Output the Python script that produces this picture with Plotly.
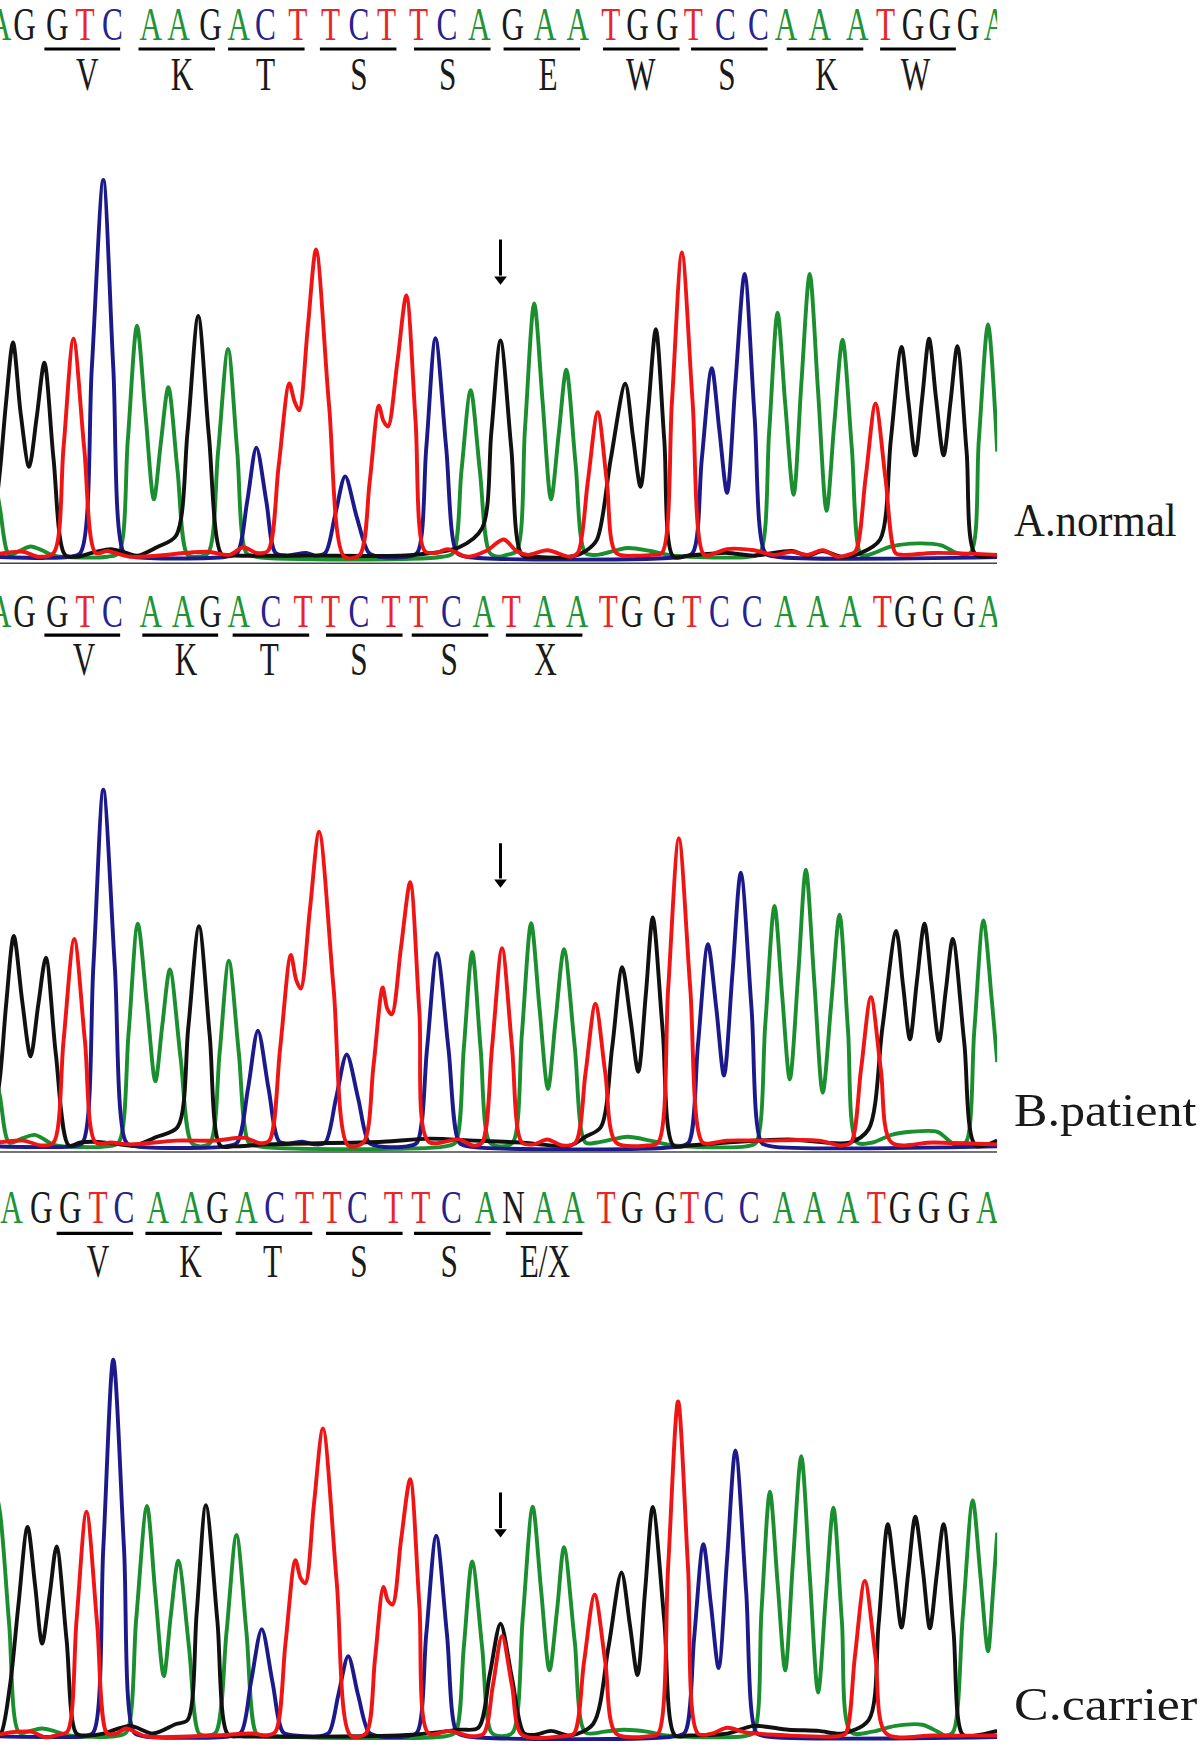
import plotly.graph_objects as go

# ---------- panel A (normal) ----------
A_BASES = list("AGGTCAAGACTTCTTCAGAATGGTCCAAATGGGA")
A_BASE_X = [0,32,75,111,147,197,233,275,312,347,389,432,469,505,547,584,626,670,712,755,798,833,872,906,948,991,1027,1071,1120,1157,1193,1228,1265,1300]
A_AA = ["V","K","T","S","S","E","W","S","K","W"]
A_AA_X = [114,238,347,469,585,716,837,950,1080,1196]
A_BARS = [(58,157),(181,281),(298,398),(418,518),(541,641),(658,758),(788,888),(903,1003),(1028,1128),(1150,1249)]
A_BLACK = [(-12,1440),(0,1230),(8,1050),(17,895),(27,1080),(38,1220),(48,1090),(58,948),(70,1200),(85,1450),(100,1455),(125,1442),(145,1435),(165,1445),(180,1452),(205,1430),(230,1400),(245,1130),(259,826),(273,1140),(290,1450),(305,1452),(400,1452),(540,1450),(600,1430),(630,1380),(642,1130),(654,890),(668,1170),(682,1450),(700,1455),(745,1455),(765,1440),(780,1410),(798,1200),(817,1003),(827,1140),(837,1272),(847,1070),(857,860),(868,1150),(880,1455),(900,1452),(950,1445),(985,1452),(1035,1440),(1055,1452),(1075,1440),(1100,1455),(1125,1445),(1150,1410),(1164,1150),(1178,907),(1187,1050),(1196,1190),(1205,1040),(1214,885),(1223,1040),(1233,1190),(1242,1050),(1251,905),(1263,1180),(1275,1450),(1303,1450)]
A_BLUE = [(-10,1455),(60,1458),(90,1455),(105,1445),(120,960),(135,470),(148,960),(162,1445),(175,1455),(295,1455),(310,1445),(323,1310),(335,1170),(348,1310),(360,1445),(375,1452),(400,1445),(412,1452),(425,1445),(438,1345),(451,1245),(466,1350),(482,1445),(495,1455),(530,1455),(545,1445),(557,1170),(569,884),(583,1170),(597,1445),(610,1455),(890,1455),(905,1445),(917,1200),(930,962),(940,1125),(950,1288),(961,1000),(973,716),(986,1090),(1000,1445),(1015,1455),(1303,1456)]
A_GREEN = [(-10,1200),(0,1330),(12,1450),(25,1440),(40,1428),(55,1438),(70,1452),(140,1455),(155,1445),(167,1150),(179,851),(190,1080),(201,1305),(210,1160),(220,1012),(232,1230),(245,1450),(258,1455),(272,1445),(285,1180),(298,912),(310,1180),(322,1445),(335,1455),(578,1455),(592,1445),(603,1230),(615,1020),(627,1230),(640,1445),(652,1455),(662,1450),(675,1440),(686,1120),(698,793),(709,1050),(720,1305),(730,1135),(740,966),(752,1210),(765,1445),(780,1450),(820,1432),(850,1440),(880,1452),(978,1455),(993,1445),(1005,1130),(1016,817),(1026,1055),(1037,1293),(1047,1005),(1058,716),(1069,1025),(1080,1335),(1090,1110),(1101,888),(1113,1170),(1125,1450),(1135,1450),(1165,1428),(1200,1420),(1230,1425),(1250,1445),(1268,1445),(1279,1150),(1291,848),(1303,1180)]
A_RED = [(-10,1450),(30,1442),(50,1455),(70,1445),(83,1170),(96,885),(110,1170),(125,1445),(140,1440),(170,1455),(270,1442),(300,1450),(318,1430),(335,1445),(350,1440),(364,1220),(378,1002),(385,1050),(391,1072),(402,860),(413,652),(430,1060),(450,1455),(470,1450),(483,1260),(495,1060),(501,1100),(507,1115),(519,950),(531,772),(543,1100),(555,1440),(570,1445),(585,1435),(610,1455),(635,1440),(658,1410),(675,1440),(690,1450),(715,1438),(745,1455),(755,1445),(768,1260),(781,1077),(793,1260),(805,1445),(835,1452),(852,1450),(865,1445),(878,1050),(891,660),(905,1050),(920,1450),(935,1445),(950,1435),(985,1438),(1010,1450),(1035,1442),(1055,1450),(1075,1438),(1095,1455),(1108,1450),(1118,1440),(1131,1250),(1144,1055),(1157,1250),(1170,1445),(1180,1450),(1220,1445),(1303,1450)]

# ---------- panel B (patient) ----------
B_BASES = list("AGGTCAAGACTTCTTCATAATGGTCCAAATGGGA")
B_BASE_X = [0,32,75,111,147,197,239,275,312,354,396,432,469,511,547,590,632,668,711,754,795,826,868,904,940,983,1026,1068,1111,1153,1183,1219,1260,1293]
B_AA = ["V","K","T","S","S","X"]
B_AA_X = [110,243,352,469,587,713]
B_BARS = [(58,157),(186,285),(304,404),(426,526),(538,638),(661,761)]
B_BLACK = [(-12,1460),(0,1300),(8,1110),(18,930),(29,1100),(40,1245),(50,1110),(60,987),(73,1240),(90,1478),(105,1470),(120,1468),(150,1473),(175,1478),(205,1455),(232,1430),(246,1170),(260,905),(274,1190),(288,1478),(305,1480),(350,1475),(500,1468),(560,1460),(620,1465),(680,1470),(745,1478),(765,1455),(785,1430),(800,1220),(813,1012),(824,1150),(834,1285),(844,1080),(853,882),(866,1180),(880,1478),(900,1478),(950,1470),(1030,1462),(1110,1470),(1135,1435),(1153,1170),(1171,917),(1180,1060),(1189,1200),(1198,1050),(1208,898),(1217,1050),(1227,1205),(1236,1070),(1245,938),(1260,1210),(1275,1478),(1303,1465)]
B_BLUE = [(-10,1480),(60,1482),(95,1480),(108,1470),(122,1010),(135,548),(150,1010),(165,1470),(178,1480),(295,1480),(310,1470),(324,1330),(337,1178),(351,1330),(365,1468),(380,1472),(395,1468),(412,1475),(425,1470),(439,1355),(453,1240),(468,1355),(482,1470),(495,1480),(532,1480),(545,1470),(558,1225),(571,975),(586,1225),(600,1470),(612,1480),(888,1480),(900,1470),(912,1215),(925,952),(936,1120),(946,1295),(957,1030),(968,765),(982,1120),(995,1470),(1008,1480),(1303,1480)]
B_GREEN = [(-10,1250),(0,1350),(12,1470),(28,1460),(45,1450),(58,1462),(70,1476),(140,1480),(155,1470),(168,1185),(180,898),(192,1110),(203,1310),(212,1165),(222,1018),(236,1250),(250,1470),(262,1480),(275,1470),(287,1235),(299,995),(312,1235),(325,1470),(338,1480),(582,1480),(595,1470),(606,1225),(617,972),(628,1225),(640,1470),(655,1480),(670,1470),(682,1185),(694,897),(705,1120),(716,1330),(726,1150),(737,965),(751,1220),(765,1470),(780,1470),(800,1462),(820,1455),(850,1465),(880,1478),(975,1480),(988,1470),(1000,1160),(1012,852),(1022,1085),(1032,1305),(1043,1030),(1053,757),(1064,1050),(1075,1340),(1086,1110),(1097,875),(1108,1175),(1120,1470),(1140,1470),(1165,1450),(1190,1442),(1225,1442),(1240,1465),(1250,1478),(1262,1470),(1273,1180),(1285,890),(1296,1100),(1303,1260)]
B_RED = [(-10,1472),(30,1465),(55,1478),(70,1470),(83,1205),(97,938),(111,1205),(125,1470),(145,1470),(170,1475),(230,1465),(280,1465),(320,1458),(340,1472),(352,1465),(366,1225),(380,980),(387,1045),(393,1068),(405,860),(417,658),(436,1070),(455,1478),(475,1470),(488,1270),(500,1065),(506,1120),(512,1135),(524,960),(536,790),(548,1130),(560,1468),(600,1462),(618,1478),(630,1470),(643,1220),(656,962),(669,1220),(682,1470),(698,1475),(715,1462),(735,1478),(752,1470),(765,1290),(778,1108),(791,1290),(805,1470),(845,1478),(860,1470),(873,1070),(887,675),(902,1070),(918,1470),(935,1470),(950,1465),(1000,1465),(1070,1465),(1100,1478),(1112,1470),(1125,1280),(1138,1090),(1151,1280),(1165,1470),(1220,1470),(1303,1475)]

# ---------- panel C (carrier) ----------
C_BASES = list("AGGTCAAGACTTCTTCANAATGGTCCAAATGGGA")
C_BASE_X = [15,54,92,128,162,206,250,284,322,359,398,434,467,514,550,590,635,671,711,749,792,826,870,901,933,979,1024,1064,1108,1145,1176,1214,1253,1290]
C_AA = ["V","K","T","S","S","E/X"]
C_AA_X = [128,249,356,469,587,712]
C_BARS = [(74,174),(190,290),(308,408),(426,526),(541,641),(661,761)]
C_BLACK = [(-10,1535),(0,1530),(13,1400),(24,1190),(36,985),(46,1140),(55,1290),(65,1160),(74,1036),(87,1280),(100,1525),(115,1530),(135,1525),(170,1505),(200,1525),(230,1500),(245,1490),(257,1210),(269,928),(284,1230),(298,1528),(315,1532),(540,1528),(600,1515),(625,1510),(640,1370),(654,1238),(669,1380),(685,1525),(700,1528),(720,1518),(745,1530),(775,1500),(795,1300),(812,1104),(823,1240),(833,1372),(843,1150),(853,933),(868,1230),(882,1530),(900,1530),(950,1525),(985,1505),(1030,1515),(1070,1518),(1100,1525),(1135,1490),(1148,1240),(1160,978),(1169,1110),(1178,1248),(1187,1100),(1196,958),(1206,1100),(1215,1250),(1224,1110),(1233,978),(1246,1260),(1258,1528),(1275,1530),(1303,1518)]
C_BLUE = [(-10,1532),(60,1534),(110,1532),(122,1522),(135,1040),(148,548),(162,1040),(175,1522),(188,1532),(300,1532),(315,1522),(328,1390),(342,1252),(356,1390),(370,1522),(385,1530),(418,1532),(430,1522),(442,1425),(455,1323),(468,1425),(482,1522),(495,1532),(532,1532),(545,1522),(557,1265),(570,1008),(584,1265),(597,1522),(610,1532),(882,1532),(895,1522),(907,1275),(919,1030),(929,1190),(939,1354),(950,1070),(961,785),(975,1155),(988,1522),(1000,1532),(1303,1534)]
C_GREEN = [(-10,850),(0,948),(12,1240),(25,1522),(40,1518),(55,1512),(70,1518),(90,1530),(150,1532),(165,1522),(178,1225),(192,930),(203,1160),(214,1375),(223,1220),(233,1073),(247,1300),(260,1525),(270,1530),(282,1522),(296,1260),(309,1006),(322,1260),(335,1525),(345,1530),(582,1532),(595,1522),(606,1300),(617,1075),(630,1300),(642,1522),(655,1532),(670,1522),(683,1225),(696,932),(707,1150),(718,1360),(728,1200),(737,1038),(751,1285),(765,1522),(790,1520),(815,1515),(845,1520),(870,1530),(972,1532),(985,1522),(995,1205),(1006,893),(1016,1130),(1026,1360),(1036,1080),(1047,800),(1058,1110),(1069,1418),(1079,1170),(1089,935),(1100,1230),(1112,1522),(1140,1520),(1170,1505),(1205,1502),(1225,1520),(1235,1530),(1245,1522),(1258,1220),(1271,916),(1281,1110),(1291,1310),(1297,1170),(1303,1000)]
C_RED = [(-10,1535),(5,1525),(40,1520),(60,1535),(76,1528),(88,1520),(100,1230),(113,945),(127,1240),(140,1525),(152,1525),(165,1512),(190,1532),(280,1530),(330,1525),(348,1530),(360,1520),(373,1290),(386,1072),(393,1120),(399,1132),(410,930),(422,728),(440,1130),(458,1530),(478,1525),(490,1330),(501,1142),(507,1178),(513,1188),(524,1020),(536,860),(548,1190),(560,1525),(587,1518),(615,1532),(632,1525),(644,1400),(656,1270),(669,1400),(682,1528),(735,1532),(750,1525),(763,1340),(777,1162),(791,1340),(805,1525),(848,1532),(860,1525),(873,1090),(886,657),(899,1090),(912,1525),(930,1525),(950,1510),(975,1522),(1030,1530),(1095,1532),(1105,1525),(1117,1325),(1130,1126),(1144,1325),(1158,1525),(1220,1530),(1303,1530)]

PANEL_LABELS = ["A.normal", "B.patient", "C.carrier"]
ARROW_X = 654

PAGE_W, PAGE_H = 1200, 1750
CROP_OFFSETS = [0, 580, 1150]
CROP_H = 600
BASE_ZY = [75, 93, 160]
BAR_ZY = [128, 144, 218]
AA_ZY = [205, 218, 303]
ARROW_TOP = [626, 688, 895]
ARROW_TIP = [745, 805, 1013]
RULE_ZY = [1472, 1495, None]
LABEL_Y = [520, 1110, 1704]
LABEL_SCALE = [0.93, 1.09, 1.13]

COL = {"A": "#1f9436", "C": "#26238f", "G": "#1a1a1a", "T": "#e8262a", "N": "#1a1a1a"}
TRACE_COL = {"green": "#1b8f2f", "blue": "#1c1a8a", "black": "#111111", "red": "#f01414"}
FONT = "Liberation Serif"

panels = [
    (A_BASES, A_BASE_X, A_AA, A_AA_X, A_BARS, A_GREEN, A_BLUE, A_BLACK, A_RED),
    (B_BASES, B_BASE_X, B_AA, B_AA_X, B_BARS, B_GREEN, B_BLUE, B_BLACK, B_RED),
    (C_BASES, C_BASE_X, C_AA, C_AA_X, C_BARS, C_GREEN, C_BLUE, C_BLACK, C_RED),
]

fig = go.Figure()
for i, p in enumerate(panels):
    bases, bx, aa, ax, bars, green, blue, black, red = p
    yref = "y" if i == 0 else f"y{i+1}"
    for name, pts in (("green", green), ("blue", blue), ("black", black), ("red", red)):
        fig.add_trace(go.Scatter(x=[q[0] for q in pts], y=[q[1] for q in pts], yaxis=yref, mode="lines",
                                 showlegend=False, hoverinfo="skip",
                                 line=dict(color=TRACE_COL[name], width=3.9, shape="spline", smoothing=0.85)))
    bar_x, bar_y = [], []
    for a, b in bars:
        bar_x += [a, b, None]
        bar_y += [BAR_ZY[i], BAR_ZY[i], None]
    fig.add_trace(go.Scatter(x=bar_x, y=bar_y, yaxis=yref, mode="lines", showlegend=False, hoverinfo="skip",
                             line=dict(color="#000000", width=3.2)))
    fig.add_trace(go.Scatter(x=bx, y=[BASE_ZY[i]] * len(bx), yaxis=yref, mode="text", text=bases, showlegend=False,
                             hoverinfo="skip", textposition="middle center",
                             textfont=dict(family=FONT, size=46, color=[COL[b] for b in bases])))
    fig.add_trace(go.Scatter(x=ax, y=[AA_ZY[i]] * len(ax), yaxis=yref, mode="text", text=aa, showlegend=False,
                             hoverinfo="skip", textposition="middle center",
                             textfont=dict(family=FONT, size=46, color="#1a1a1a")))
    fig.add_trace(go.Scatter(x=[ARROW_X, ARROW_X], y=[ARROW_TOP[i], ARROW_TIP[i] - 25], yaxis=yref, mode="lines",
                             showlegend=False, hoverinfo="skip", line=dict(color="#000000", width=3)))
    fig.add_trace(go.Scatter(x=[ARROW_X], y=[ARROW_TIP[i] - 15], yaxis=yref, mode="markers", showlegend=False,
                             hoverinfo="skip", marker=dict(symbol="triangle-down", size=11, color="#000000")))
    if RULE_ZY[i] is not None:
        fig.add_trace(go.Scatter(x=[0, 1303], y=[RULE_ZY[i], RULE_ZY[i]], yaxis=yref, mode="lines", showlegend=False,
                                 hoverinfo="skip", line=dict(color="#444444", width=1.6)))
    fig.add_annotation(text=PANEL_LABELS[i], xref="paper", yref="paper", x=1012 / PAGE_W,
                       y=1 - LABEL_Y[i] / PAGE_H, xanchor="left", yanchor="middle", showarrow=False,
                       font=dict(family=FONT, size=46, color="#1a1a1a"))

layout = dict(width=PAGE_W, height=PAGE_H, margin=dict(l=0, r=0, t=0, b=0), paper_bgcolor="white", plot_bgcolor="white",
              showlegend=False,
              xaxis=dict(domain=[0, 997.2 / PAGE_W], range=[0, 1303], visible=False))
for i, off in enumerate(CROP_OFFSETS):
    key = "yaxis" if i == 0 else f"yaxis{i+1}"
    layout[key] = dict(domain=[1 - (off + CROP_H) / PAGE_H, 1 - off / PAGE_H], range=[1568, 0], visible=False, anchor="x")
fig.update_layout(**layout)

POST = """
document.body.style.margin='0';
document.querySelectorAll('.textpoint text').forEach(function(t){
  t.style.transformBox='fill-box'; t.style.transformOrigin='center'; t.style.transform='scaleX(0.68)';
});
var s=%s;
document.querySelectorAll('.annotation-text').forEach(function(t,i){
  t.style.transformBox='fill-box'; t.style.transformOrigin='left center'; t.style.transform='scaleX('+s[i]+')';
});
""" % LABEL_SCALE
fig.write_html("out.html", post_script=POST, config={"displayModeBar": False})
